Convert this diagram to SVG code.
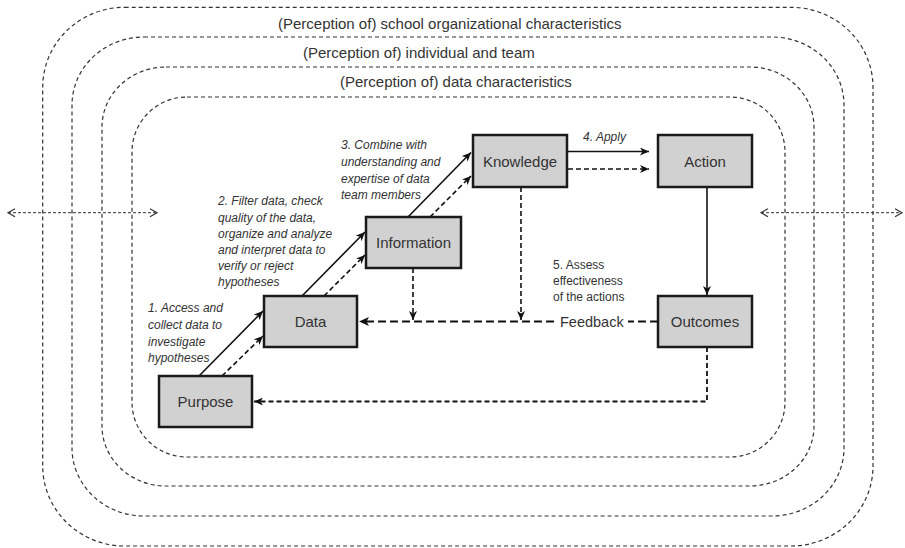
<svg xmlns="http://www.w3.org/2000/svg" width="905" height="548" viewBox="0 0 905 548">
<style>
.ring{fill:none;stroke:#333;stroke-width:1.2;stroke-dasharray:4 3}
.title{font-family:"Liberation Sans",Arial,sans-serif;font-size:15px;fill:#333}
.box{fill:#d1d1d1;stroke:#1a1a1a;stroke-width:2.5}
.blab{font-family:"Liberation Sans",Arial,sans-serif;font-size:15px;fill:#333;text-anchor:middle}
.ital{font-family:"Liberation Sans",Arial,sans-serif;font-size:12px;font-style:italic;fill:#333}
.norm{font-family:"Liberation Sans",Arial,sans-serif;font-size:12px;fill:#333}
.solid{fill:none;stroke:#111;stroke-width:1.6;marker-end:url(#ah)}
.dash{fill:none;stroke:#111;stroke-width:1.6;stroke-dasharray:5 3;marker-end:url(#ah)}
.fb{fill:none;stroke:#111;stroke-width:2;stroke-dasharray:8 4}
.dbl{fill:none;stroke:#333;stroke-width:1;stroke-dasharray:3 2;marker-start:url(#oa);marker-end:url(#oa)}
</style>
<defs>
<marker id="ah" markerUnits="userSpaceOnUse" markerWidth="10" markerHeight="8" refX="9" refY="4" orient="auto" viewBox="0 0 10 8">
<path d="M0,0 L9,4 L0,8 L2.5,4 Z" fill="#111"/>
</marker>
<marker id="oa" markerUnits="userSpaceOnUse" markerWidth="10" markerHeight="10" refX="8" refY="5" orient="auto-start-reverse" viewBox="0 0 10 10">
<path d="M1,1 L8,5 L1,9" fill="none" stroke="#333" stroke-width="1.2"/>
</marker>
</defs>

<g id="rings">
<rect class="ring" x="42.7" y="7.3" width="830.3" height="538.7" rx="82" ry="80"/>
<rect class="ring" x="72" y="37" width="772" height="479" rx="72" ry="68"/>
<rect class="ring" x="102" y="67" width="712" height="419" rx="64" ry="60"/>
<rect class="ring" x="132" y="97" width="653" height="360" rx="55" ry="55"/>
<text class="title" x="278" y="29">(Perception of) school organizational characteristics</text>
<text class="title" x="303" y="58">(Perception of) individual and team</text>
<text class="title" x="340" y="87">(Perception of) data characteristics</text>
</g>

<g id="connectors">
<path class="dbl" d="M8,212.7 L157,212.7"/>
<path class="dbl" d="M761,212.7 L902,212.7"/>
<path class="solid" d="M199,376 L263,311"/>
<path class="dash" d="M222,376 L263,336"/>
<path class="solid" d="M302,296 L365,232"/>
<path class="dash" d="M324,296 L365,255"/>
<path class="solid" d="M408,217 L471,152.5"/>
<path class="dash" d="M430,217 L471,176"/>
<path class="solid" d="M568,151.5 L649,151.5"/>
<path class="dash" d="M568,169 L649,169"/>
<path class="solid" d="M707,187 L707,295"/>
<path class="dash" d="M521,187 L521,320"/>
<path class="dash" d="M413,268 L413,320"/>
<path class="fb" d="M658,321.5 L628,321.5"/>
<path class="fb" d="M554,321.5 L366,321.5"/>
<path d="M359,321.5 L369,317 L366.5,321.5 L369,326 Z" fill="#111"/>
<path class="dash" d="M707,347 L707,401.5 L254,401.5" style="stroke-width:1.8"/>
<text class="ital" x="148" y="312">1. Access and</text>
<text class="ital" x="148" y="329">collect data to</text>
<text class="ital" x="148" y="346">investigate</text>
<text class="ital" x="148" y="362">hypotheses</text>
<text class="ital" x="218" y="205">2. Filter data, check</text>
<text class="ital" x="218" y="221.5">quality of the data,</text>
<text class="ital" x="218" y="237.5">organize and analyze</text>
<text class="ital" x="218" y="254">and interpret data to</text>
<text class="ital" x="218" y="270">verify or reject</text>
<text class="ital" x="218" y="286">hypotheses</text>
<text class="ital" x="341" y="149">3. Combine with</text>
<text class="ital" x="341" y="166">understanding and</text>
<text class="ital" x="341" y="182.5">expertise of data</text>
<text class="ital" x="341" y="199">team members</text>
<text class="ital" x="583" y="141">4. Apply</text>
<text class="norm" x="553" y="269">5. Assess</text>
<text class="norm" x="553" y="285">effectiveness</text>
<text class="norm" x="553" y="301">of the actions</text>
<text class="norm" x="560" y="326.5" style="font-size:14.5px">Feedback</text>
</g>

<g id="purpose"><rect class="box" x="159" y="376" width="93" height="51"/><text class="blab" x="205.5" y="407">Purpose</text></g>
<g id="data"><rect class="box" x="264" y="296" width="93" height="51"/><text class="blab" x="310.5" y="327">Data</text></g>
<g id="information"><rect class="box" x="366" y="217" width="95" height="51"/><text class="blab" x="413.5" y="248">Information</text></g>
<g id="knowledge"><rect class="box" x="473" y="135" width="94" height="52"/><text class="blab" x="520" y="166.5">Knowledge</text></g>
<g id="action"><rect class="box" x="658" y="135" width="94" height="52"/><text class="blab" x="705" y="166.5">Action</text></g>
<g id="outcomes"><rect class="box" x="658" y="296" width="94" height="51"/><text class="blab" x="705" y="327">Outcomes</text></g>
</svg>
